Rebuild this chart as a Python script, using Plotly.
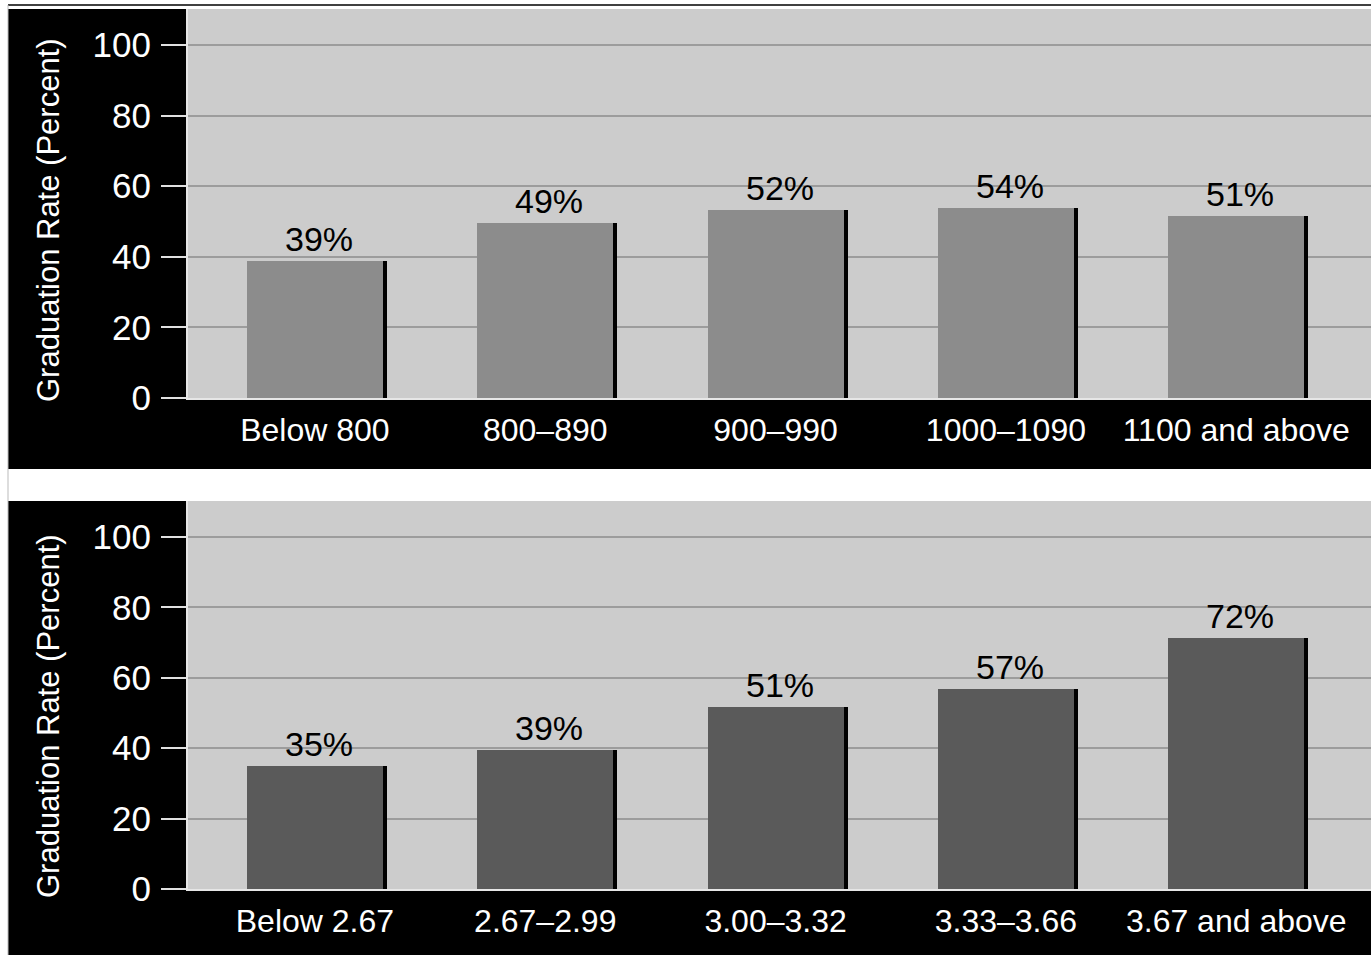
import plotly.graph_objects as go

# The photograph squeezes the page vertically (974 -> 955), so the figure is
# made 974 tall; all vertical positions are given as reference-pixel fractions.
REF_W, REF_H = 1371, 955
W, H = 1371, 974

# ---- data ----
sat_categories = ["Below 800", "800–890", "900–990", "1000–1090", "1100 and above"]
sat_values = [38.8, 49.6, 53.4, 53.8, 51.6]
sat_labels = ["39%", "49%", "52%", "54%", "51%"]

gpa_categories = ["Below 2.67", "2.67–2.99", "3.00–3.32", "3.33–3.66", "3.67 and above"]
gpa_values = [34.9, 39.5, 51.6, 56.8, 71.3]
gpa_labels = ["35%", "39%", "51%", "57%", "72%"]

y_title = "Graduation Rate (Percent)"
y_ticks = [0, 20, 40, 60, 80, 100]

# ---- style ----
FONT = "Liberation Sans, Arial, sans-serif"
TOP_BAR = "#8c8c8c"
BOT_BAR = "#5a5a5a"
PLOT_BG = "#cccccc"
BAR_W = 0.591
SHADOW_DX = 0.0174


def px_x(p):
    return p / REF_W


def px_y(p):
    return 1 - p / REF_H


fig = go.Figure()


def add_panel(cats, vals, labels, color, xa, ya):
    # black drop-shadow bar (carries the value labels)
    fig.add_trace(go.Bar(
        x=cats, y=vals, width=[BAR_W] * len(cats),
        offset=-BAR_W / 2 + SHADOW_DX,
        marker=dict(color="#000000", line=dict(width=0)),
        text=labels, textposition="outside", cliponaxis=False,
        constraintext="none",
        textfont=dict(family=FONT, size=34, color="#000000"),
        xaxis=xa, yaxis=ya, hoverinfo="skip", showlegend=False,
    ))
    fig.add_trace(go.Bar(
        x=cats, y=vals, width=[BAR_W] * len(cats),
        offset=-BAR_W / 2,
        marker=dict(color=color, line=dict(width=0)),
        xaxis=xa, yaxis=ya, showlegend=False,
    ))


add_panel(sat_categories, sat_values, sat_labels, TOP_BAR, "x", "y")
add_panel(gpa_categories, gpa_values, gpa_labels, BOT_BAR, "x2", "y2")

xcommon = dict(
    domain=[px_x(188), 1.0], range=[-0.551, 4.585], showgrid=False, zeroline=False,
    showline=True, linecolor="#e6e6e6", linewidth=2,
    ticks="", ticklabelstandoff=3,
    tickfont=dict(family=FONT, size=32, color="#ffffff"),
    fixedrange=True,
)
ycommon = dict(
    range=[0, 110.2], tickvals=y_ticks, showgrid=True,
    gridcolor="#9c9c9c", gridwidth=1.5, zeroline=False,
    showline=True, linecolor="#e6e6e6", linewidth=2,
    ticks="outside", ticklen=25, tickwidth=1.5, tickcolor="#e0e0e0",
    ticklabelstandoff=3,
    tickfont=dict(family=FONT, size=35, color="#ffffff"),
    fixedrange=True,
)

fig.update_layout(
    width=W, height=H,
    margin=dict(l=0, r=0, t=0, b=0),
    paper_bgcolor="#ffffff", plot_bgcolor=PLOT_BG,
    barmode="overlay", bargap=0,
    xaxis=dict(**xcommon, anchor="y"),
    yaxis=dict(**ycommon, domain=[px_y(398), px_y(9)], anchor="x"),
    xaxis2=dict(**xcommon, anchor="y2"),
    yaxis2=dict(**ycommon, domain=[px_y(889), px_y(501)], anchor="x2"),
)


def black(x0, x1, y0, y1):
    return dict(type="rect", xref="paper", yref="paper",
                x0=px_x(x0), x1=px_x(x1), y0=px_y(y1), y1=px_y(y0),
                fillcolor="#000000", line=dict(width=0), layer="below")


shapes = [
    black(8, 188, 9, 469),
    black(188, 1371, 398, 469),
    black(8, 188, 501, 955),
    black(188, 1371, 889, 955),
    dict(type="line", xref="paper", yref="paper", x0=px_x(8), x1=1, y0=px_y(5), y1=px_y(5),
         line=dict(color="#000000", width=1.5), layer="below"),
    dict(type="line", xref="paper", yref="paper", x0=px_x(8), x1=px_x(8), y0=0, y1=px_y(5),
         line=dict(color="#bbbbbb", width=1), layer="below"),
]
fig.update_layout(shapes=shapes)

for yc in (220, 716):
    fig.add_annotation(
        text=y_title, xref="paper", yref="paper", x=px_x(48), y=px_y(yc),
        xanchor="center", yanchor="middle", textangle=-90, showarrow=False,
        font=dict(family=FONT, size=31, color="#ffffff"),
    )

post = ("document.documentElement.style.margin='0';"
        "document.documentElement.style.overflow='hidden';"
        "document.body.style.margin='0';"
        "document.body.style.overflow='hidden';")

fig.write_html("out.html", post_script=post, config={"displayModeBar": False})
